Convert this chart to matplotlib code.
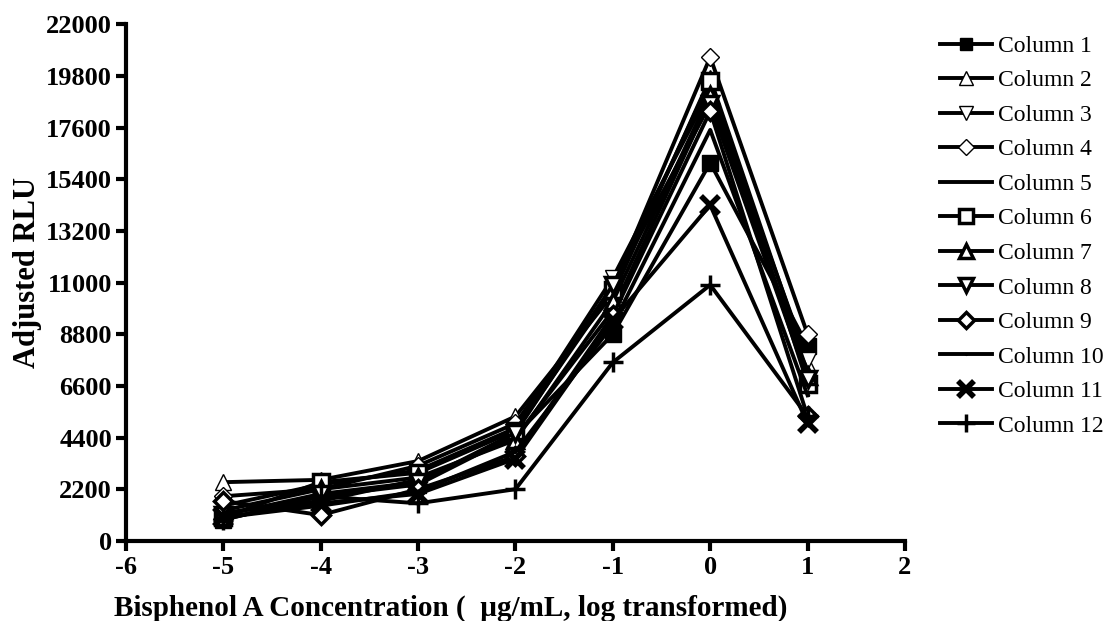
import matplotlib
matplotlib.use("Agg")
import matplotlib.pyplot as plt

x_vals = [-5, -4, -3, -2, -1, 0, 1]
col1 = [900, 1900, 2400, 4500, 8800, 16100, 8300]
col2 = [2500, 2600, 3400, 5300, 10500, 19700, 7500]
col3 = [1500, 2400, 3000, 4800, 11200, 19200, 7700]
col4 = [1900, 2200, 3200, 5000, 10800, 20600, 8800]
col5 = [1200, 1700, 2600, 4400, 9800, 18800, 7200]
col6 = [1000, 2500, 2900, 4700, 10700, 19600, 6700]
col7 = [1300, 2200, 2700, 4300, 10200, 19000, 7000]
col8 = [1100, 2000, 2500, 4600, 10900, 18600, 6900]
col9 = [1700, 1100, 2200, 3600, 9600, 18300, 5300]
col10 = [1000, 1500, 2100, 3800, 9200, 17500, 6200]
col11 = [1000, 1600, 2000, 3500, 9400, 14300, 5000]
col12 = [900, 1900, 1600, 2200, 7600, 10900, 5300]
labels = [f"Column {i}" for i in range(1, 13)]
y_ticks = [0, 2200, 4400, 6600, 8800, 11000, 13200, 15400, 17600, 19800, 22000]
x_ticks = [-6, -5, -4, -3, -2, -1, 0, 1, 2]

series = [col1, col2, col3, col4, col5, col6, col7, col8, col9, col10, col11, col12]
styles = [
    dict(marker='s', mfc='black', mec='black', ms=11, mew=1),
    dict(marker='^', mfc='white', mec='black', ms=12, mew=1),
    dict(marker='v', mfc='white', mec='black', ms=12, mew=1),
    dict(marker='D', mfc='white', mec='black', ms=9, mew=1),
    dict(marker=None),
    dict(marker='s', mfc='white', mec='black', ms=12, mew=2.5),
    dict(marker='^', mfc='white', mec='black', ms=12, mew=2.5),
    dict(marker='v', mfc='white', mec='black', ms=12, mew=2.5),
    dict(marker='D', mfc='white', mec='black', ms=9, mew=2.5),
    dict(marker='.', mfc='black', mec='black', ms=3),
    dict(marker='x', mfc='black', mec='black', ms=13, mew=4),
    dict(marker='+', mfc='black', mec='black', ms=15, mew=2.5),
]

plt.rcParams['font.family'] = ['Liberation Serif', 'DejaVu Serif']

fig = plt.figure(figsize=(11.09, 6.21), dpi=100)
ax = fig.add_axes([0.1136, 0.129, 0.7024, 0.832])

handles = []
for s, st, lab in zip(series, styles, labels):
    h, = ax.plot(x_vals, s, color='black', lw=2.8, label=lab, **st)
    handles.append(h)

ax.set_xlim(-6, 2)
ax.set_ylim(0, 22000)
ax.set_xticks(x_ticks)
ax.set_yticks(y_ticks)
ax.set_xticklabels([str(t) for t in x_ticks], fontsize=19, fontweight='bold')
ax.set_yticklabels([str(t) for t in y_ticks], fontsize=19, fontweight='bold')
for sp in ['top', 'right']:
    ax.spines[sp].set_visible(False)
for sp in ['left', 'bottom']:
    ax.spines[sp].set_linewidth(3)
ax.tick_params(direction='out', length=7.5, width=3, pad=2.5)
ax.tick_params(axis='x', pad=3.5)
ax.set_xlabel("Bisphenol A Concentration (  \u00b5g/mL, log transformed)",
              fontsize=21, fontweight='bold')
ax.xaxis.set_label_coords(0.417, -0.13, transform=ax.transAxes)
ax.xaxis.label.set_va('center')
ax.set_ylabel("Adjusted RLU", fontsize=22, fontweight='bold')
ax.yaxis.set_label_coords(-0.126, 0.52, transform=ax.transAxes)
ax.yaxis.label.set_va('center')

fig.legend(handles=handles, labels=labels, loc='upper left',
           bbox_to_anchor=(0.8476, 0.943), frameon=False, fontsize=17,
           borderaxespad=0, borderpad=0,
           handlelength=2.2, handletextpad=0.25, labelspacing=0.55,
           markerscale=0.85)

fig.savefig("out.png", dpi=100)
